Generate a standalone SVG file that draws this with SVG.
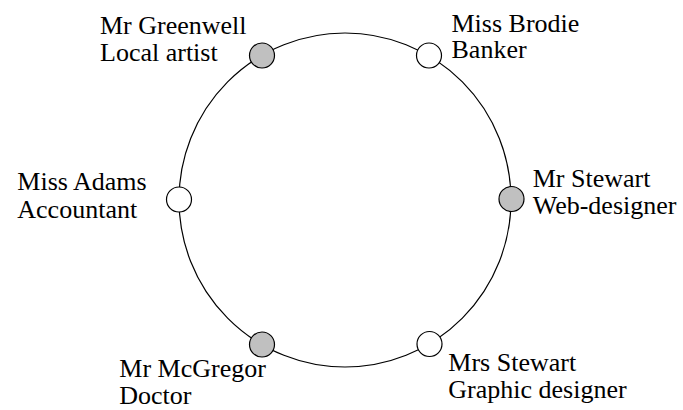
<svg xmlns="http://www.w3.org/2000/svg" width="683" height="410" viewBox="0 0 683 410">
<style>
.ring{fill:none;stroke:#000;stroke-width:1.2}
.n{stroke:#000;stroke-width:1.2}
.w{fill:#fff}
.g{fill:#c0c0c0}
text{font-family:"Liberation Serif","Times New Roman",serif;font-size:26px;fill:#000}
</style>
<rect width="683" height="410" fill="#fff"/>
<g id="connectors">
<ellipse class="ring" cx="345" cy="200" rx="166" ry="167"/>
</g>
<g id="greenwell">
<circle class="n g" cx="262" cy="55.5" r="12.5"/>
<text x="100" y="34.3">Mr Greenwell</text>
<text x="100" y="61">Local artist</text>
</g>
<g id="brodie">
<circle class="n w" cx="429" cy="55.5" r="12.5"/>
<text x="451.5" y="31.7">Miss Brodie</text>
<text x="451.5" y="58.3">Banker</text>
</g>
<g id="adams">
<circle class="n w" cx="179" cy="199.5" r="12.5"/>
<text x="17.3" y="190">Miss Adams</text>
<text x="17.3" y="218.3">Accountant</text>
</g>
<g id="mrstewart">
<circle class="n g" cx="511.5" cy="199" r="12.5"/>
<text x="532.7" y="186.7">Mr Stewart</text>
<text x="532.7" y="214.3">Web-designer</text>
</g>
<g id="mcgregor">
<circle class="n g" cx="262" cy="344.5" r="12.5"/>
<text x="119.3" y="376.7">Mr McGregor</text>
<text x="119.3" y="404.3">Doctor</text>
</g>
<g id="mrsstewart">
<circle class="n w" cx="429.5" cy="344" r="12.5"/>
<text x="448.3" y="371">Mrs Stewart</text>
<text x="448.3" y="398.3">Graphic designer</text>
</g>
</svg>
